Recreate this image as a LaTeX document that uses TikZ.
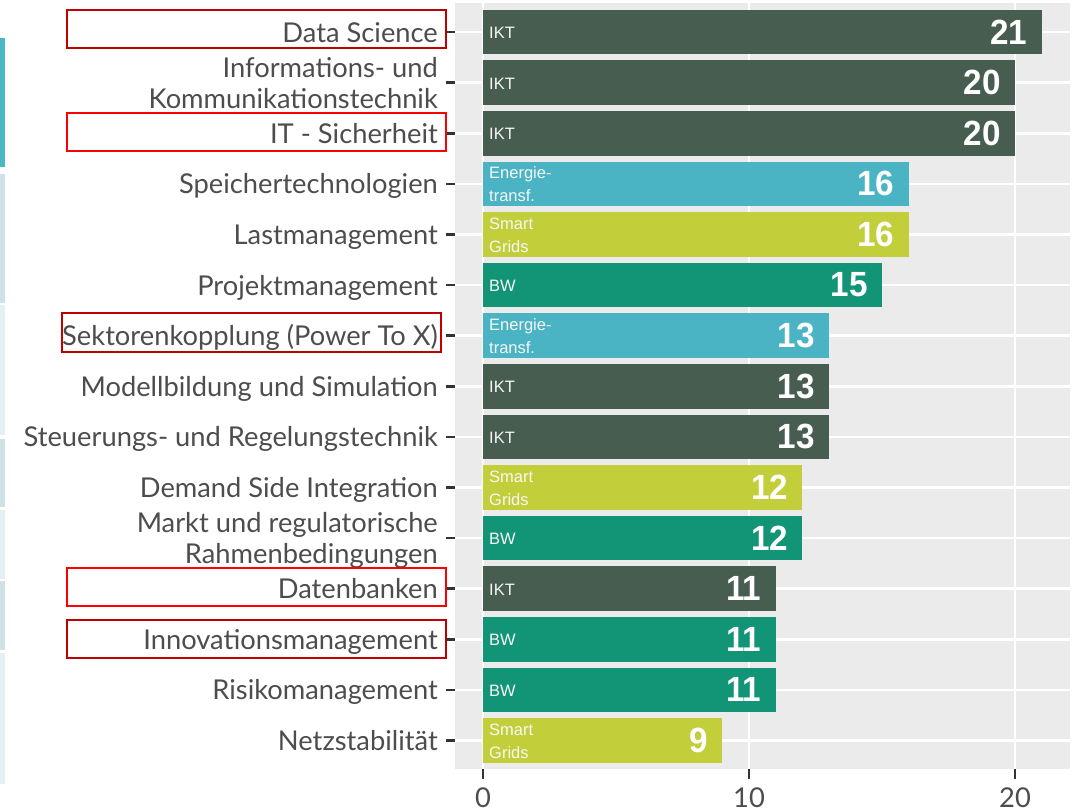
\documentclass[tikz,border=0pt]{standalone}
\usepackage{fontspec}
\setmainfont{Lato}
\newfontfamily\arialfont{Liberation Sans}
\definecolor{ikt}{HTML}{465D4F}
\definecolor{energie}{HTML}{4AB4C4}
\definecolor{smart}{HTML}{C2CF3A}
\definecolor{bw}{HTML}{129477}
\definecolor{panelgrey}{HTML}{EBEBEB}
\definecolor{axisgrey}{HTML}{4D4D4D}
\definecolor{tickgrey}{HTML}{333333}
\definecolor{stripteal}{HTML}{4BB8C6}
\definecolor{striplight}{HTML}{CCE3E8}
\definecolor{striplighter}{HTML}{E6F0F3}
\definecolor{darkred}{HTML}{C00000}
\definecolor{brightred}{HTML}{FF0000}
\tikzset{
  rowlabel/.style={anchor=east, inner sep=0pt, align=right, text=axisgrey,
    font=\fontsize{27.3}{31}\selectfont},
  cattext/.style={anchor=west, inner sep=0pt, align=left, text=white!94!gray,
    font=\arialfont\fontsize{16.5}{23}\selectfont},
  numtext/.style={anchor=east, inner sep=0pt, text=white,
    font=\arialfont\bfseries\fontsize{35}{35}\selectfont},
  gridline/.style={white, line width=2.6pt},
  axistick/.style={tickgrey, line width=2.6pt},
  hilite/.style={line width=2.5pt},
  xlabel/.style={anchor=base, inner sep=0pt, text=axisgrey,
    font=\fontsize{27.3}{31}\selectfont}
}
\begin{document}
\begin{tikzpicture}[x=1pt,y=-1pt]
\useasboundingbox (0,0) rectangle (1078,807);
\fill[white] (0,0) rectangle (1078,807);
% left edge strips
\fill[stripteal] (0,38) rectangle (5,167);
\fill[striplight] (0,174) rectangle (5,303);
\fill[striplighter] (0,305) rectangle (5,435);
\fill[striplight] (0,439) rectangle (5,507);
\fill[striplighter] (0,510) rectangle (5,579);
\fill[striplight] (0,581) rectangle (5,650);
\fill[striplighter] (0,653) rectangle (5,784);
% panel
\fill[panelgrey] (455,3) rectangle (1070,769);
\foreach \xx in {483,749,1015} {
  \draw[gridline] (\xx,3) -- (\xx,769);
}
\foreach \i in {0,...,14} {
  \pgfmathsetmacro{\cy}{32+50.6*\i}
  \draw[gridline] (455,\cy) -- (1070,\cy);
  \draw[axistick] (446,\cy) -- (455,\cy);
}
% bars and labels
\foreach \i/\v/\c/\k/\t in {
  0/21/ikt/{IKT}/{Data Science},
  1/20/ikt/{IKT}/{Informations- und\\\strut Kommunikationstechnik},
  2/20/ikt/{IKT}/{IT - Sicherheit},
  3/16/energie/{Energie-\\\strut transf.}/{Speichertechnologien},
  4/16/smart/{Smart\\\strut Grids}/{Lastmanagement},
  5/15/bw/{BW}/{Projektmanagement},
  6/13/energie/{Energie-\\\strut transf.}/{Sektorenkopplung (Power To X)},
  7/13/ikt/{IKT}/{Modellbildung und Simulation},
  8/13/ikt/{IKT}/{Steuerungs- und Regelungstechnik},
  9/12/smart/{Smart\\\strut Grids}/{Demand Side Integration},
  10/12/bw/{BW}/{Markt und regulatorische\\\strut Rahmenbedingungen},
  11/11/ikt/{IKT}/{Datenbanken},
  12/11/bw/{BW}/{Innovationsmanagement},
  13/11/bw/{BW}/{Risikomanagement},
  14/9/smart/{Smart\\\strut Grids}/{Netzstabilität}} {
  \pgfmathsetmacro{\cy}{32+50.6*\i}
  \pgfmathsetmacro{\xe}{483+26.6*\v}
  \fill[\c] (483,\cy-22.3) rectangle (\xe,\cy+22.3);
  \node[rowlabel] (lab\i) at (438,\cy+3.8) {\strut\t};
  \node[cattext] (cat\i) at (489,\cy+2) {\strut\k};
  \node[numtext] (num\i) at (\xe-14,\cy) {\scalebox{0.95}[1]{\v}};
}
% highlight boxes
\draw[hilite, darkred] (67,10) rectangle (446,48);
\draw[hilite, brightred] (67,113) rectangle (446,151);
\draw[hilite, darkred] (62,313) rectangle (441,352);
\draw[hilite, brightred] (67,568) rectangle (446,606);
\draw[hilite, darkred] (67,620) rectangle (446,658);
% x axis
\foreach \xx/\lab in {483/0,749/10,1015/20} {
  \draw[axistick] (\xx,769) -- (\xx,779);
  \node[xlabel] (xl\lab) at (\xx,807) {\lab};
}
\end{tikzpicture}
\end{document}
